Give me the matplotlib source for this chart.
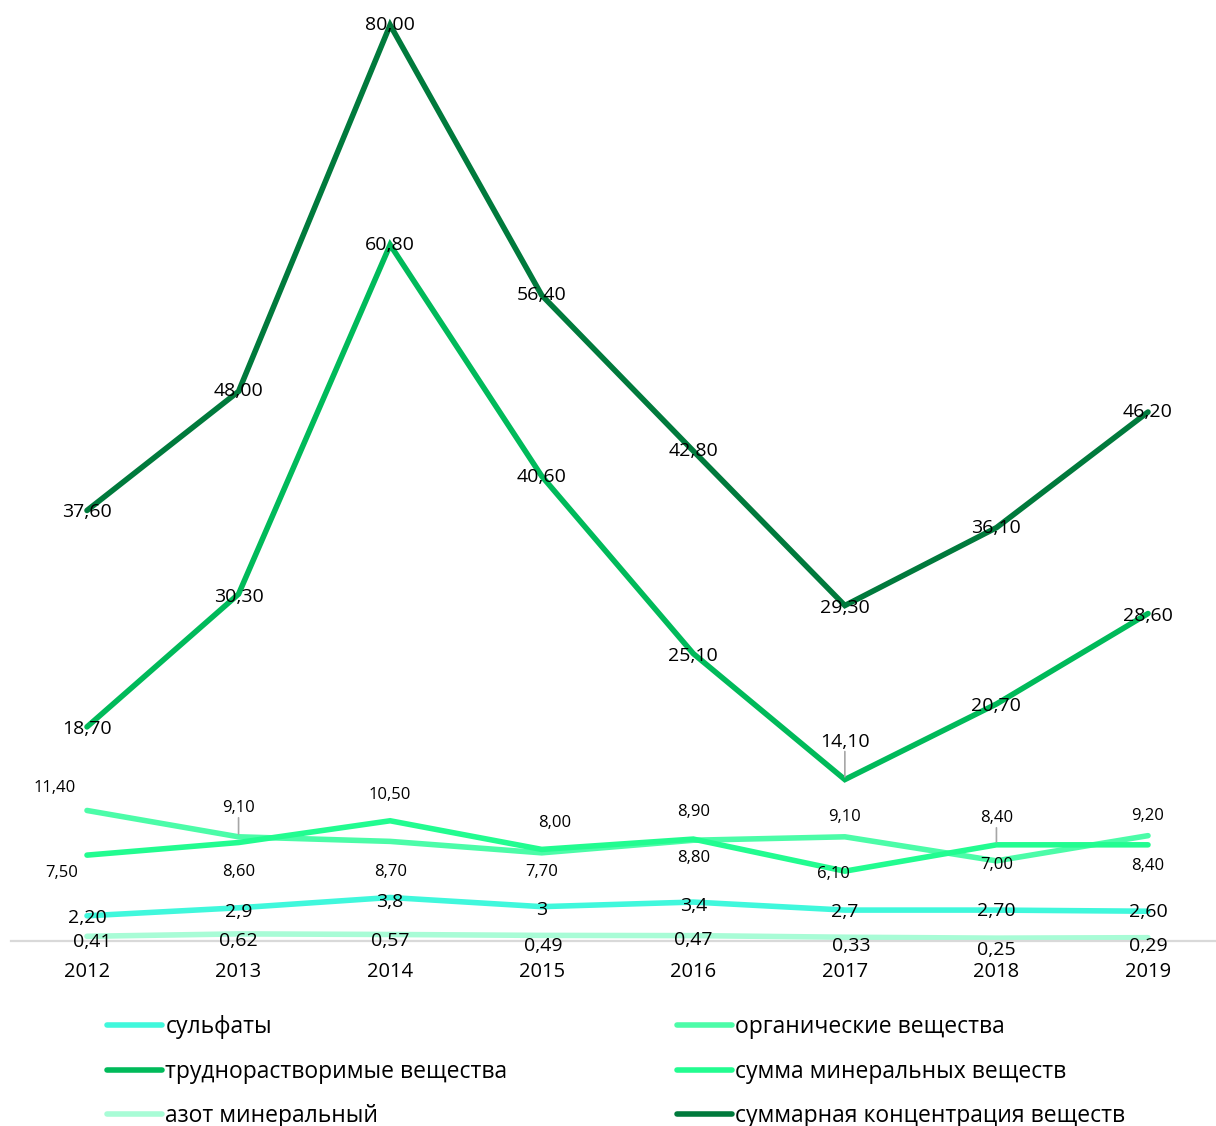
import matplotlib
matplotlib.use("Agg")
import matplotlib.pyplot as plt
from matplotlib.lines import Line2D

plt.rcParams['font.family'] = ['Open Sans', 'DejaVu Sans']

#----------------------------------------
# data
years = ['2012', '2013', '2014', '2015', '2016', '2017', '2018', '2019']

sulfates = [2.20, 2.9, 3.8, 3.0, 3.4, 2.7, 2.70, 2.60]
sulfates_txt = ['2,20', '2,9', '3,8', '3', '3,4', '2,7', '2,70', '2,60']

organic = [11.40, 9.10, 8.70, 7.70, 8.80, 9.10, 7.00, 9.20]
organic_txt = ['11,40', '9,10', '8,70', '7,70', '8,80', '9,10', '7,00', '9,20']

insoluble = [18.70, 30.30, 60.80, 40.60, 25.10, 14.10, 20.70, 28.60]
insoluble_txt = ['18,70', '30,30', '60,80', '40,60', '25,10', '14,10', '20,70', '28,60']

mineral_sum = [7.50, 8.60, 10.50, 8.00, 8.90, 6.10, 8.40, 8.40]
mineral_sum_txt = ['7,50', '8,60', '10,50', '8,00', '8,90', '6,10', '8,40', '8,40']

nitrogen = [0.41, 0.62, 0.57, 0.49, 0.47, 0.33, 0.25, 0.29]
nitrogen_txt = ['0,41', '0,62', '0,57', '0,49', '0,47', '0,33', '0,25', '0,29']

total = [37.60, 48.00, 80.00, 56.40, 42.80, 29.30, 36.10, 46.20]
total_txt = ['37,60', '48,00', '80,00', '56,40', '42,80', '29,30', '36,10', '46,20']

#----------------------------------------
# label offsets in pixels (dx, dy), and where a leader line is drawn
sulf_off = [(0, -2), (0, -4), (0, -5), (0, -3), (0, -4), (0, -2), (0, -1), (0, -1)]
org_off = [(-32, 22), (0, 29), (0, -31), (0, -19), (0, -18), (0, 20), (0, -4), (0, 20)]
org_lead = [False, True, False, False, False, False, False, False]
min_off = [(-25, -18), (0, -29), (0, 26), (13, 26), (0, 27), (-11, -3), (0, 27), (0, -21)]
min_lead = [False, False, False, False, False, False, True, False]
ins_off = [(0, -2), (0, -3), (0, 0), (0, -1), (0, -2), (0, 38), (0, -2), (0, -2)]
ins_lead = [False, False, False, False, False, True, False, False]
nit_off = [(5, -6), (0, -7), (0, -7), (2, -11), (0, -4), (6, -9), (0, -12), (0, -8)]
tot_off = [(0, -2), (0, 0), (0, 0), (0, 0), (0, 0), (0, -2), (0, 0), (0, 0)]

c_sulf = '#40F8DC'
c_org = '#4CFCA8'
c_ins = '#00BA5A'
c_min = '#22FC90'
c_nit = '#A8FCD6'
c_tot = '#007A3C'

fig = plt.figure(figsize=(12.16, 11.26), dpi=100)
ax = fig.add_axes([11.2 / 1216, 185 / 1126, 1212.6 / 1216, 916 / 1126])

x = list(range(len(years)))
lw = 4.0
series = [
    (nitrogen, nitrogen_txt, nit_off, None, c_nit, 14),
    (sulfates, sulfates_txt, sulf_off, None, c_sulf, 14),
    (organic, organic_txt, org_off, org_lead, c_org, 12),
    (mineral_sum, mineral_sum_txt, min_off, min_lead, c_min, 12),
    (insoluble, insoluble_txt, ins_off, ins_lead, c_ins, 14),
    (total, total_txt, tot_off, None, c_tot, 14),
]

for vals, txt, offs, lead, col, fs in series:
    ax.plot(x, vals, color=col, lw=lw, solid_capstyle='round',
            solid_joinstyle='miter', clip_on=False)

for vals, txt, offs, lead, col, fs in series:
    for i in range(len(vals)):
        dx, dy = offs[i]
        ax.annotate(txt[i], (x[i], vals[i]), xytext=(dx, dy),
                    textcoords='offset pixels', ha='center', va='center',
                    fontsize=fs, color='black', annotation_clip=False)
        if lead is not None and lead[i]:
            d = 1 if dy > 0 else -1
            ax.annotate('', (x[i], vals[i]), xytext=(dx, dy - d * 10),
                        textcoords='offset pixels', annotation_clip=False,
                        arrowprops=dict(arrowstyle='-', color='#A6A6A6', lw=1.2,
                                        shrinkA=0, shrinkB=2))

ax.set_xlim(-0.5, 7.5)
ax.set_ylim(0, 80)
ax.set_yticks([])
ax.set_xticks(x)
ax.set_xticklabels(years, fontsize=14.5)
ax.tick_params(axis='x', length=0, pad=15)
for s in ['top', 'left', 'right']:
    ax.spines[s].set_visible(False)
ax.spines['bottom'].set_color('#D9D9D9')
ax.spines['bottom'].set_linewidth(1.6)
ax.patch.set_alpha(0)

#----------------------------------------
# legend, two columns
left_items = [('сульфаты', c_sulf), ('труднорастворимые вещества', c_ins), ('азот минеральный', c_nit)]
right_items = [('органические вещества', c_org), ('сумма минеральных веществ', c_min),
               ('суммарная концентрация веществ', c_tot)]

for items, xpos in [(left_items, 107), (right_items, 677)]:
    handles = [Line2D([], [], color=c, lw=lw, solid_capstyle='round') for _, c in items]
    labels = [t for t, _ in items]
    fig.legend(handles, labels, loc='upper left',
               bbox_to_anchor=(xpos / 1216, 1 - 1015 / 1126),
               frameon=False, fontsize=16.5, handlelength=2.4, handletextpad=0.15,
               labelspacing=0.9, borderpad=0, borderaxespad=0)

fig.savefig('out.png', dpi=100)
